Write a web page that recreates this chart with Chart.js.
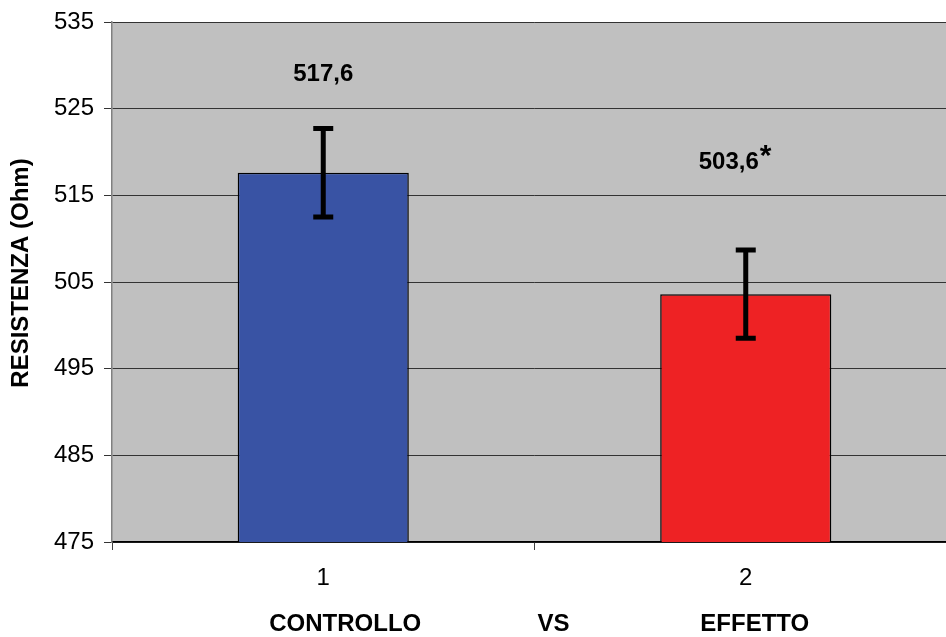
<!DOCTYPE html>
<html>
<head>
<meta charset="utf-8">
<script src="https://cdn.jsdelivr.net/npm/chart.js"></script>
<style>
  body { margin: 0; overflow: hidden; background: #fff; }
</style>
</head>
<body>
<canvas id="myChart" width="957" height="637"></canvas>
<script>
// data
const categories = ['1', '2'];
const groupNames = ['CONTROLLO', 'VS', 'EFFETTO'];
const values = [517.6, 503.6];
const errors = [5.1, 5.1];
const valueLabels = ['517,6', '503,6'];
const labelStars = ['', '*'];
const labelAt = [528.9, 518.8];   // y value where each value label sits
const barColors = ['#3953a4', '#ee2224'];
const yTicks = [475, 485, 495, 505, 515, 525, 535];

const FONT = '"Liberation Sans", Arial, sans-serif';

const bgPlugin = {
  id: 'plotBg',
  beforeDraw(chart) {
    const a = chart.chartArea, c = chart.ctx;
    c.save();
    c.fillStyle = '#c0c0c0';
    c.fillRect(a.left, a.top, a.right - a.left, a.bottom - a.top);
    c.restore();
  }
};

const extrasPlugin = {
  id: 'extras',
  afterDatasetsDraw(chart) {
    const c = chart.ctx, y = chart.scales.y, x = chart.scales.x;
    const meta = chart.getDatasetMeta(0);
    c.save();
    // error bars
    c.strokeStyle = '#000';
    c.lineWidth = 5;
    meta.data.forEach((bar, i) => {
      const top = y.getPixelForValue(values[i] + errors[i]);
      const bot = y.getPixelForValue(values[i] - errors[i]);
      c.beginPath();
      c.moveTo(bar.x, top); c.lineTo(bar.x, bot);
      c.moveTo(bar.x - 10, top); c.lineTo(bar.x + 10, top);
      c.moveTo(bar.x - 10, bot); c.lineTo(bar.x + 10, bot);
      c.stroke();
    });
    // value labels
    c.fillStyle = '#000';
    c.textBaseline = 'middle';
    meta.data.forEach((bar, i) => {
      c.font = 'bold 24px ' + FONT;
      const w = c.measureText(valueLabels[i]).width;
      const ly = y.getPixelForValue(labelAt[i]);
      const lx = bar.x - (labelStars[i] ? 17 : 0);
      c.textAlign = 'center';
      c.fillText(valueLabels[i], lx, ly);
      if (labelStars[i]) {
        c.font = 'bold 30px ' + FONT;
        c.textAlign = 'left';
        c.fillText(labelStars[i], lx + w / 2 + 1, ly - 6);
      }
    });
    // y axis title
    c.font = 'bold 24px ' + FONT;
    c.textAlign = 'center';
    c.translate(21, (chart.chartArea.top + chart.chartArea.bottom) / 2 - 9);
    c.rotate(-Math.PI / 2);
    c.fillText('RESISTENZA (Ohm)', 0, 0);
    c.restore();
    // group names under the axis
    c.save();
    c.font = 'bold 24px ' + FONT;
    c.textAlign = 'center';
    c.textBaseline = 'middle';
    const p0 = x.getPixelForValue(0), p1 = x.getPixelForValue(1);
    const gy = 624;
    c.fillText(groupNames[0], p0 + 22, gy);
    c.fillText(groupNames[1], (p0 + p1) / 2 + 19, gy);
    c.fillText(groupNames[2], p1 + 9, gy);
    c.restore();
  }
};

new Chart(document.getElementById('myChart'), {
  type: 'bar',
  data: {
    labels: categories,
    datasets: [{
      data: values,
      backgroundColor: barColors,
      borderColor: '#000',
      borderWidth: 1.5,
      borderSkipped: false,
      categoryPercentage: 0.405,
      barPercentage: 1
    }]
  },
  options: {
    responsive: false,
    devicePixelRatio: 1,
    animation: false,
    layout: { padding: { top: 22, right: 0, left: 0, bottom: 0 } },
    plugins: { legend: { display: false }, tooltip: { enabled: false } },
    scales: {
      x: {
        offset: true,
        grid: { display: true, drawOnChartArea: false, drawTicks: true, tickLength: 8, color: '#404040', offset: true },
        border: { color: '#000', width: 1.5 },
        ticks: { color: '#000', font: { family: FONT, size: 24 }, padding: 14 },
        afterFit(s) { s.height = 95; }
      },
      y: {
        min: 475,
        max: 535,
        afterBuildTicks(s) { s.ticks = yTicks.map(v => ({ value: v })); },
        grid: { color: '#333', lineWidth: 1, tickLength: 8 },
        border: { color: '#808080', width: 1.5 },
        ticks: { color: '#000', font: { family: FONT, size: 24 }, padding: 10 },
        afterFit(s) { s.width = 112; s.paddingTop = 6; }
      }
    }
  },
  plugins: [bgPlugin, extrasPlugin]
});
</script>
</body>
</html>
